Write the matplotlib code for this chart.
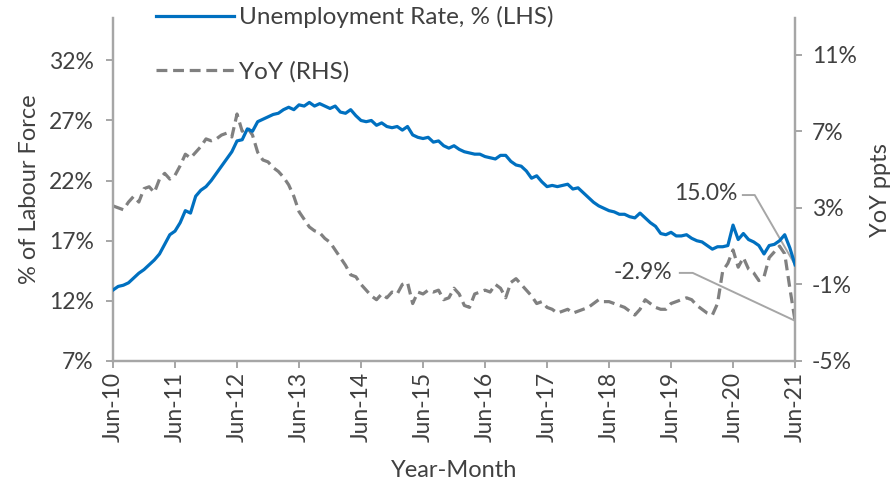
import numpy as np
import matplotlib.pyplot as plt
from matplotlib.lines import Line2D

plt.rcParams['font.family'] = ['Lato', 'DejaVu Sans']

# monthly data, Jun-10 .. Jun-21
unemp = [12.9, 13.2, 13.3, 13.5, 13.9, 14.3, 14.6, 15.0, 15.4, 15.9, 16.7, 17.5,
         17.8, 18.5, 19.5, 19.3, 20.7, 21.2, 21.5, 22.0, 22.6, 23.2, 23.8, 24.4,
         25.3, 25.4, 26.3, 26.1, 26.9, 27.1, 27.3, 27.5, 27.6, 27.9, 28.1, 27.9,
         28.3, 28.2, 28.5, 28.2, 28.4, 28.2, 28.0, 28.2, 27.7, 27.6, 27.9, 27.4,
         27.0, 26.9, 27.0, 26.6, 26.8, 26.5, 26.4, 26.5, 26.2, 26.5, 25.8, 25.6,
         25.5, 25.6, 25.2, 25.3, 24.9, 24.7, 24.9, 24.6, 24.4, 24.3, 24.2, 24.2,
         24.0, 23.9, 23.8, 24.1, 24.1, 23.6, 23.3, 23.2, 22.8, 22.2, 22.4, 21.9,
         21.5, 21.6, 21.5, 21.6, 21.7, 21.3, 21.4, 21.0, 20.6, 20.2, 19.9, 19.7,
         19.5, 19.4, 19.2, 19.2, 19.0, 18.9, 19.3, 18.9, 18.5, 18.2, 17.6, 17.5,
         17.7, 17.4, 17.4, 17.5, 17.2, 17.0, 16.9, 16.6, 16.3, 16.5, 16.5, 16.6,
         18.3, 17.1, 17.6, 17.1, 16.9, 16.6, 15.9, 16.6, 16.7, 17.0, 17.5, 16.4,
         15.0]

yoy = [3.1, 3.0, 2.9, 3.3, 3.6, 3.3, 4.0, 4.1, 3.8, 4.5, 4.8, 4.5,
       4.7, 5.2, 5.8, 5.6, 5.9, 6.2, 6.6, 6.5, 6.6, 6.8, 6.9, 6.7,
       7.9, 7.0, 7.2, 6.8, 5.9, 5.5, 5.4, 5.1, 4.9, 4.6, 4.2, 3.6,
       2.8, 2.4, 2.0, 1.8, 1.7, 1.4, 1.2, 0.8, 0.4, 0.0, -0.5, -0.6,
       -1.0, -1.3, -1.6, -1.8, -1.5, -1.7, -1.4, -1.5, -1.0, -0.9, -2.0, -1.4,
       -1.5, -1.3, -1.4, -1.3, -1.8, -1.7, -1.2, -1.5, -2.1, -2.2, -1.5, -1.4,
       -1.3, -1.4, -1.0, -1.2, -1.7, -0.9, -0.7, -1.0, -1.3, -1.6, -2.0, -1.9,
       -2.2, -2.3, -2.5, -2.4, -2.3, -2.5, -2.4, -2.3, -2.2, -2.0, -1.8, -1.9,
       -1.9, -2.0, -2.1, -2.2, -2.4, -2.6, -2.3, -1.8, -2.0, -2.2, -2.3, -2.3,
       -2.0, -1.9, -1.8, -1.7, -1.8, -2.1, -2.3, -2.5, -2.6, -2.0, -0.3, 0.1,
       0.8, -0.1, 0.4, -0.2, -0.4, -0.8, -0.6, 0.4, 0.7, 1.0, 0.6, -1.2,
       -2.9]

tick_labels = ['Jun-10', 'Jun-11', 'Jun-12', 'Jun-13', 'Jun-14', 'Jun-15',
               'Jun-16', 'Jun-17', 'Jun-18', 'Jun-19', 'Jun-20', 'Jun-21']
left_ticks = [7, 12, 17, 22, 27, 32]
right_ticks = [-5, -1, 3, 7, 11]

blue = '#0070c0'
grey = '#808080'
axis_grey = '#a6a6a6'
txt = '#404040'
fs = 16.5

x = np.arange(len(unemp))

fig = plt.figure(figsize=(8.94, 4.90), dpi=100)
ax = fig.add_axes([0.1264, 0.2633, 0.7629, 0.6994])
ax2 = ax.twinx()

ax.plot(x, unemp, color=blue, lw=2.3, zorder=3)
ax2.plot(x, yoy, color=grey, lw=2.3, dashes=(3.4, 1.8))
ax.set_zorder(ax2.get_zorder() + 1)
ax.patch.set_visible(False)

ax.set_xlim(0, len(unemp) - 1)
ax.set_ylim(7, 35.5)
ax2.set_ylim(-5, 12.9)

ax.set_xticks(x[::12])
ax.set_xticklabels(tick_labels, rotation=90)
ax.set_yticks(left_ticks)
ax.set_yticklabels([f'{v}%' for v in left_ticks])
ax2.set_yticks(right_ticks)
ax2.set_yticklabels([f'{v}%' for v in right_ticks])

for a in (ax, ax2):
    for s in a.spines.values():
        s.set_color(axis_grey)
        s.set_linewidth(1.6)
    a.spines['top'].set_visible(False)
    a.tick_params(colors=axis_grey, labelcolor=txt, labelsize=fs,
                  width=1.4, length=5)
ax.tick_params(axis='x', pad=3)
ax.tick_params(axis='y', pad=9)
ax2.tick_params(axis='y', pad=7)

ax.set_ylabel('% of Labour Force', fontsize=17, color=txt, labelpad=6)
ax2.set_ylabel('YoY ppts', fontsize=17, color=txt, labelpad=10)
ax.set_xlabel('Year-Month', fontsize=17, color=txt, labelpad=13)

# end-point labels with leader lines
last = len(unemp) - 1
ax.plot([121.9, 124.2, last], [20.8, 20.8, unemp[-1]], color=axis_grey, lw=1.4, zorder=2)
ax.text(120.8, 20.9, f'{unemp[-1]:.1f}%', ha='right', va='center', fontsize=fs, color=txt)
ax2.plot([109.7, 112.2, last], [-0.4, -0.4, yoy[-1]], color=axis_grey, lw=1.4)
ax2.text(108.2, -0.4, f'{yoy[-1]:.1f}%', ha='right', va='center', fontsize=fs, color=txt)

handles = [Line2D([], [], color=blue, lw=2.3),
           Line2D([], [], color=grey, lw=2.3, dashes=(3.4, 1.8))]
fig.legend(handles, ['Unemployment Rate, % (LHS)', 'YoY (RHS)'],
           loc='upper left', bbox_to_anchor=(0.172, 0.992), frameon=False,
           fontsize=17.5, labelcolor=txt, handlelength=3.2, handletextpad=0.2,
           labelspacing=1.35, borderpad=0.1, borderaxespad=0)

fig.savefig('out.png', dpi=100)
